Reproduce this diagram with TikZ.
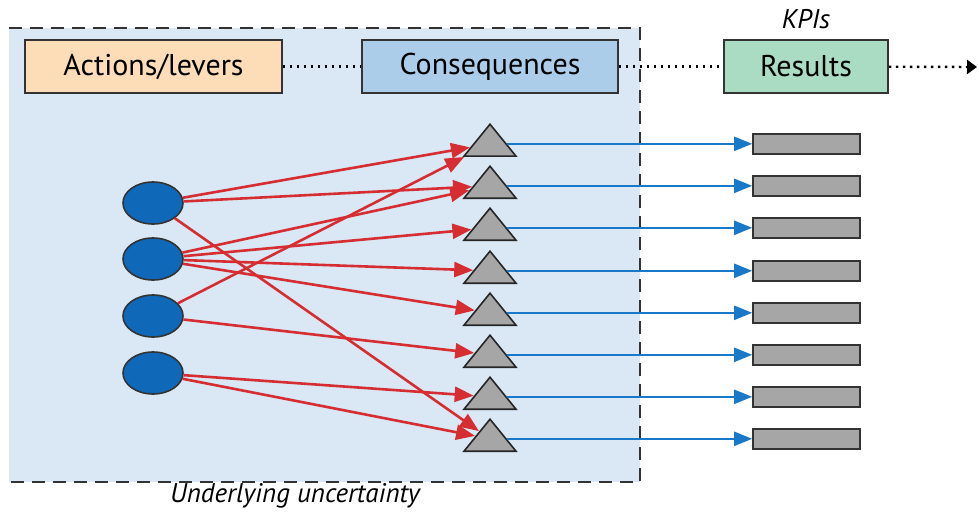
\documentclass[tikz,border=0pt]{standalone}
\usepackage{fontspec}
\setmainfont{PT Sans}
\usetikzlibrary{shapes.geometric,arrows.meta}
\definecolor{zone}{HTML}{D9E8F4}
\definecolor{peach}{HTML}{FCDDB8}
\definecolor{paleblue}{HTML}{ABCDEA}
\definecolor{palegreen}{HTML}{A9DCC3}
\definecolor{leverblue}{HTML}{1068B8}
\definecolor{arrowred}{HTML}{D62D33}
\definecolor{flowblue}{HTML}{1A78C8}

\begin{document}
\begin{tikzpicture}[x=0.5pt,y=-0.5pt,
    head/.style={draw=black!80, line width=0.9pt, minimum height=26.5pt,
      font=\fontsize{15}{17}\selectfont},
    lever/.style={ellipse, draw=black!80, line width=0.8pt, fill=leverblue,
      minimum width=30pt, minimum height=21pt, inner sep=0pt},
    effect/.style={isosceles triangle, isosceles triangle stretches,
      shape border rotate=90, draw=black!85, line width=0.8pt, fill=black!35,
      minimum width=26pt, minimum height=16pt, inner sep=0pt, anchor=south},
    kpi/.style={draw=black!80, line width=0.8pt, fill=black!35,
      minimum width=53.5pt, minimum height=10pt, inner sep=0pt},
    cause/.style={arrowred, line width=1.3pt, -{Triangle[length=9.5pt,width=7.5pt]}},
    flow/.style={flowblue, line width=1.1pt, -{Triangle[length=9pt,width=7pt]}},
    link/.style={black, line width=1.2pt, dash pattern=on 1.2pt off 2.3pt}]
    \useasboundingbox (0,0) rectangle (979,514);

    % shaded zone of underlying uncertainty
    \fill[zone] (9,28) rectangle (640,482);
    \draw[black!80, line width=1pt, dash pattern=on 6.5pt off 4pt]
      (9,28) -- (640,28) -- (640,482) -- (9,482);

    \node[head, fill=peach, minimum width=128.5pt] (act) at (153.5,66.5) {Actions/levers};
    \node[head, fill=paleblue, minimum width=128pt] (cons) at (490,66.5) {Consequences};
    \node[head, fill=palegreen, minimum width=82pt] (res) at (806,66.5) {Results};
    \node[font=\fontsize{13.5}{15}\selectfont\itshape] (kpis) at (806,19) {KPIs};
    \node[font=\fontsize{13.5}{15}\selectfont\itshape] (unc) at (295,496) {Underlying uncertainty};
    \coordinate (out) at (977,67);
    \coordinate (kx) at (806.5,0);

    \draw[link] (act) -- (cons);
    \draw[link] (cons) -- (res);
    \draw[link, -{Triangle[length=5pt,width=7pt]}] (res) -- (out);

    % levers
    \node[lever] (c1) at (153,203) {};
    \node[lever] (c2) at (153,259) {};
    \node[lever] (c3) at (153,316) {};
    \node[lever] (c4) at (153,373) {};

    % consequences
    \node[effect] (t1) at (490,157) {};
    \node[effect] (t2) at (490,199) {};
    \node[effect] (t3) at (490,241) {};
    \node[effect] (t4) at (490,284) {};
    \node[effect] (t5) at (490,326) {};
    \node[effect] (t6) at (490,368) {};
    \node[effect] (t7) at (490,410) {};
    \node[effect] (t8) at (490,452) {};

    % results
    \node[kpi] (r1) at (t1.east -| kx) {};
    \node[kpi] (r2) at (t2.east -| kx) {};
    \node[kpi] (r3) at (t3.east -| kx) {};
    \node[kpi] (r4) at (t4.east -| kx) {};
    \node[kpi] (r5) at (t5.east -| kx) {};
    \node[kpi] (r6) at (t6.east -| kx) {};
    \node[kpi] (r7) at (t7.east -| kx) {};
    \node[kpi] (r8) at (t8.east -| kx) {};

    \draw[cause] (c1) -- (t1);
    \draw[cause] (c1) -- (t2);
    \draw[cause] (c1) -- (t8);
    \draw[cause] (c2) -- (t2);
    \draw[cause] (c2) -- (t3);
    \draw[cause] (c2) -- (t4);
    \draw[cause] (c2) -- (t5);
    \draw[cause] (c3) -- (t1);
    \draw[cause] (c3) -- (t6);
    \draw[cause] (c4) -- (t7);
    \draw[cause] (c4) -- (t8);

    \draw[flow] (t1.east) -- (r1.west);
    \draw[flow] (t2.east) -- (r2.west);
    \draw[flow] (t3.east) -- (r3.west);
    \draw[flow] (t4.east) -- (r4.west);
    \draw[flow] (t5.east) -- (r5.west);
    \draw[flow] (t6.east) -- (r6.west);
    \draw[flow] (t7.east) -- (r7.west);
    \draw[flow] (t8.east) -- (r8.west);
\end{tikzpicture}
\end{document}
